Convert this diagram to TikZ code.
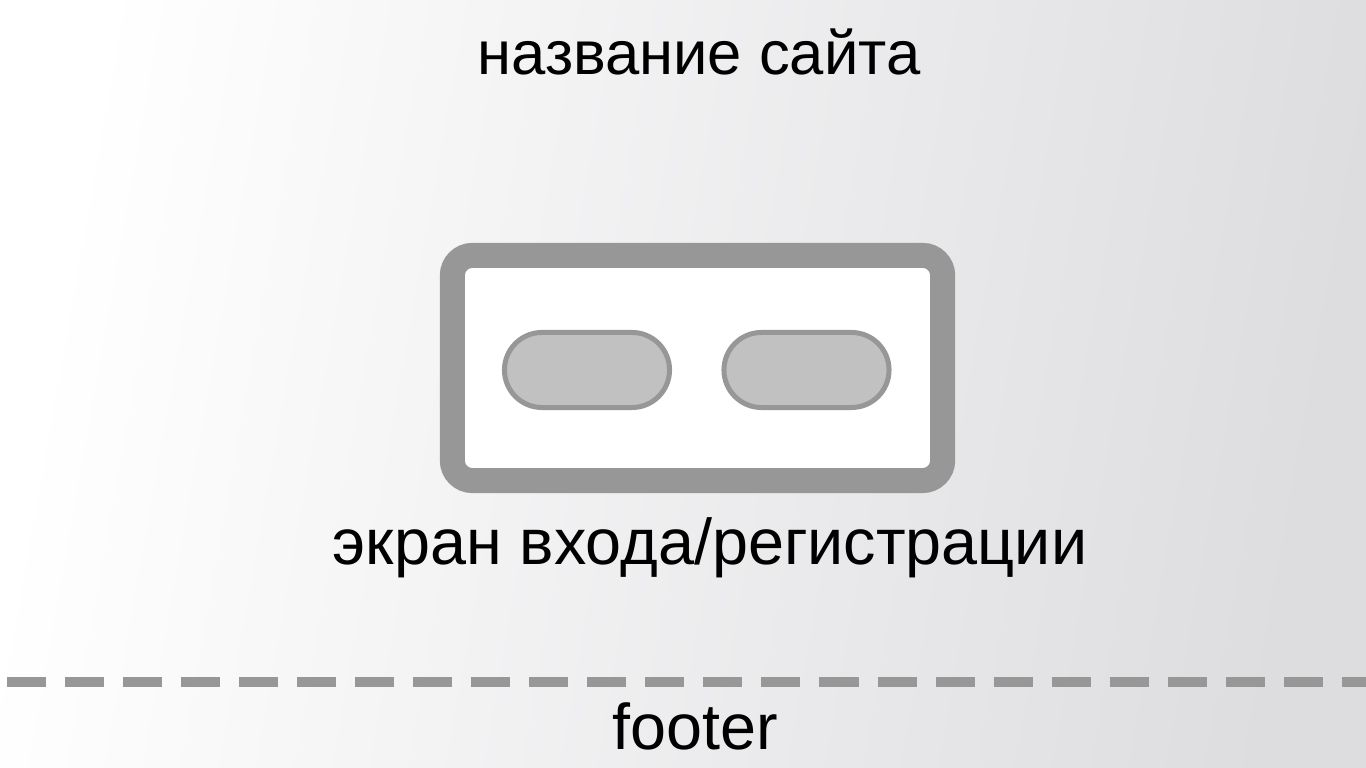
\documentclass[tikz,border=0pt]{standalone}
\usepackage{fontspec}
\setmainfont{Liberation Sans}
\usetikzlibrary{positioning}
\definecolor{frameGray}{RGB}{151,151,151}
\definecolor{pillGray}{RGB}{193,193,193}
\definecolor{bgGray}{RGB}{221,221,224}
\tikzset{
  label/.style={font=\fontsize{17.5}{21}\selectfont, text=black, inner sep=0pt, anchor=base},
  biglabel/.style={label, font=\fontsize{18.4}{22}\selectfont},
  screenbox/.style={draw=frameGray, fill=white, line width=0.25cm, rounded corners=0.2cm,
                    minimum width=4.9cm, minimum height=2.25cm, inner sep=0pt},
  pill/.style={draw=frameGray, fill=pillGray, line width=0.05cm, rounded corners=0.375cm,
               minimum width=1.65cm, minimum height=0.75cm, inner sep=0pt},
  footerline/.style={draw=frameGray, line width=0.1cm, dash pattern=on 0.39cm off 0.19cm}
}
\begin{document}
\begin{tikzpicture}[x=0.01cm, y=-0.01cm]
% page with soft gradient
\shade[left color=white, right color=bgGray, shading angle=80] (0,0) rectangle (1366,768);
\useasboundingbox (0,0) rectangle (1366,768);

\node[label] (title) at (699,75) {название сайта};

% login / sign-up screen
\node[screenbox] (screen) at (697.5,368) {};
\node[pill] (login) at (587,370) {};
\node[pill] (signup) at (806.5,370) {};
\node[biglabel] (caption) at (710,565) {экран входа/регистрации};

% footer
\coordinate (lineL) at (7,682);
\coordinate (lineR) at (1366,682);
\draw[footerline] (lineL) -- (lineR);
\node[biglabel] (footer) at (695,750) {footer};
\end{tikzpicture}
\end{document}
